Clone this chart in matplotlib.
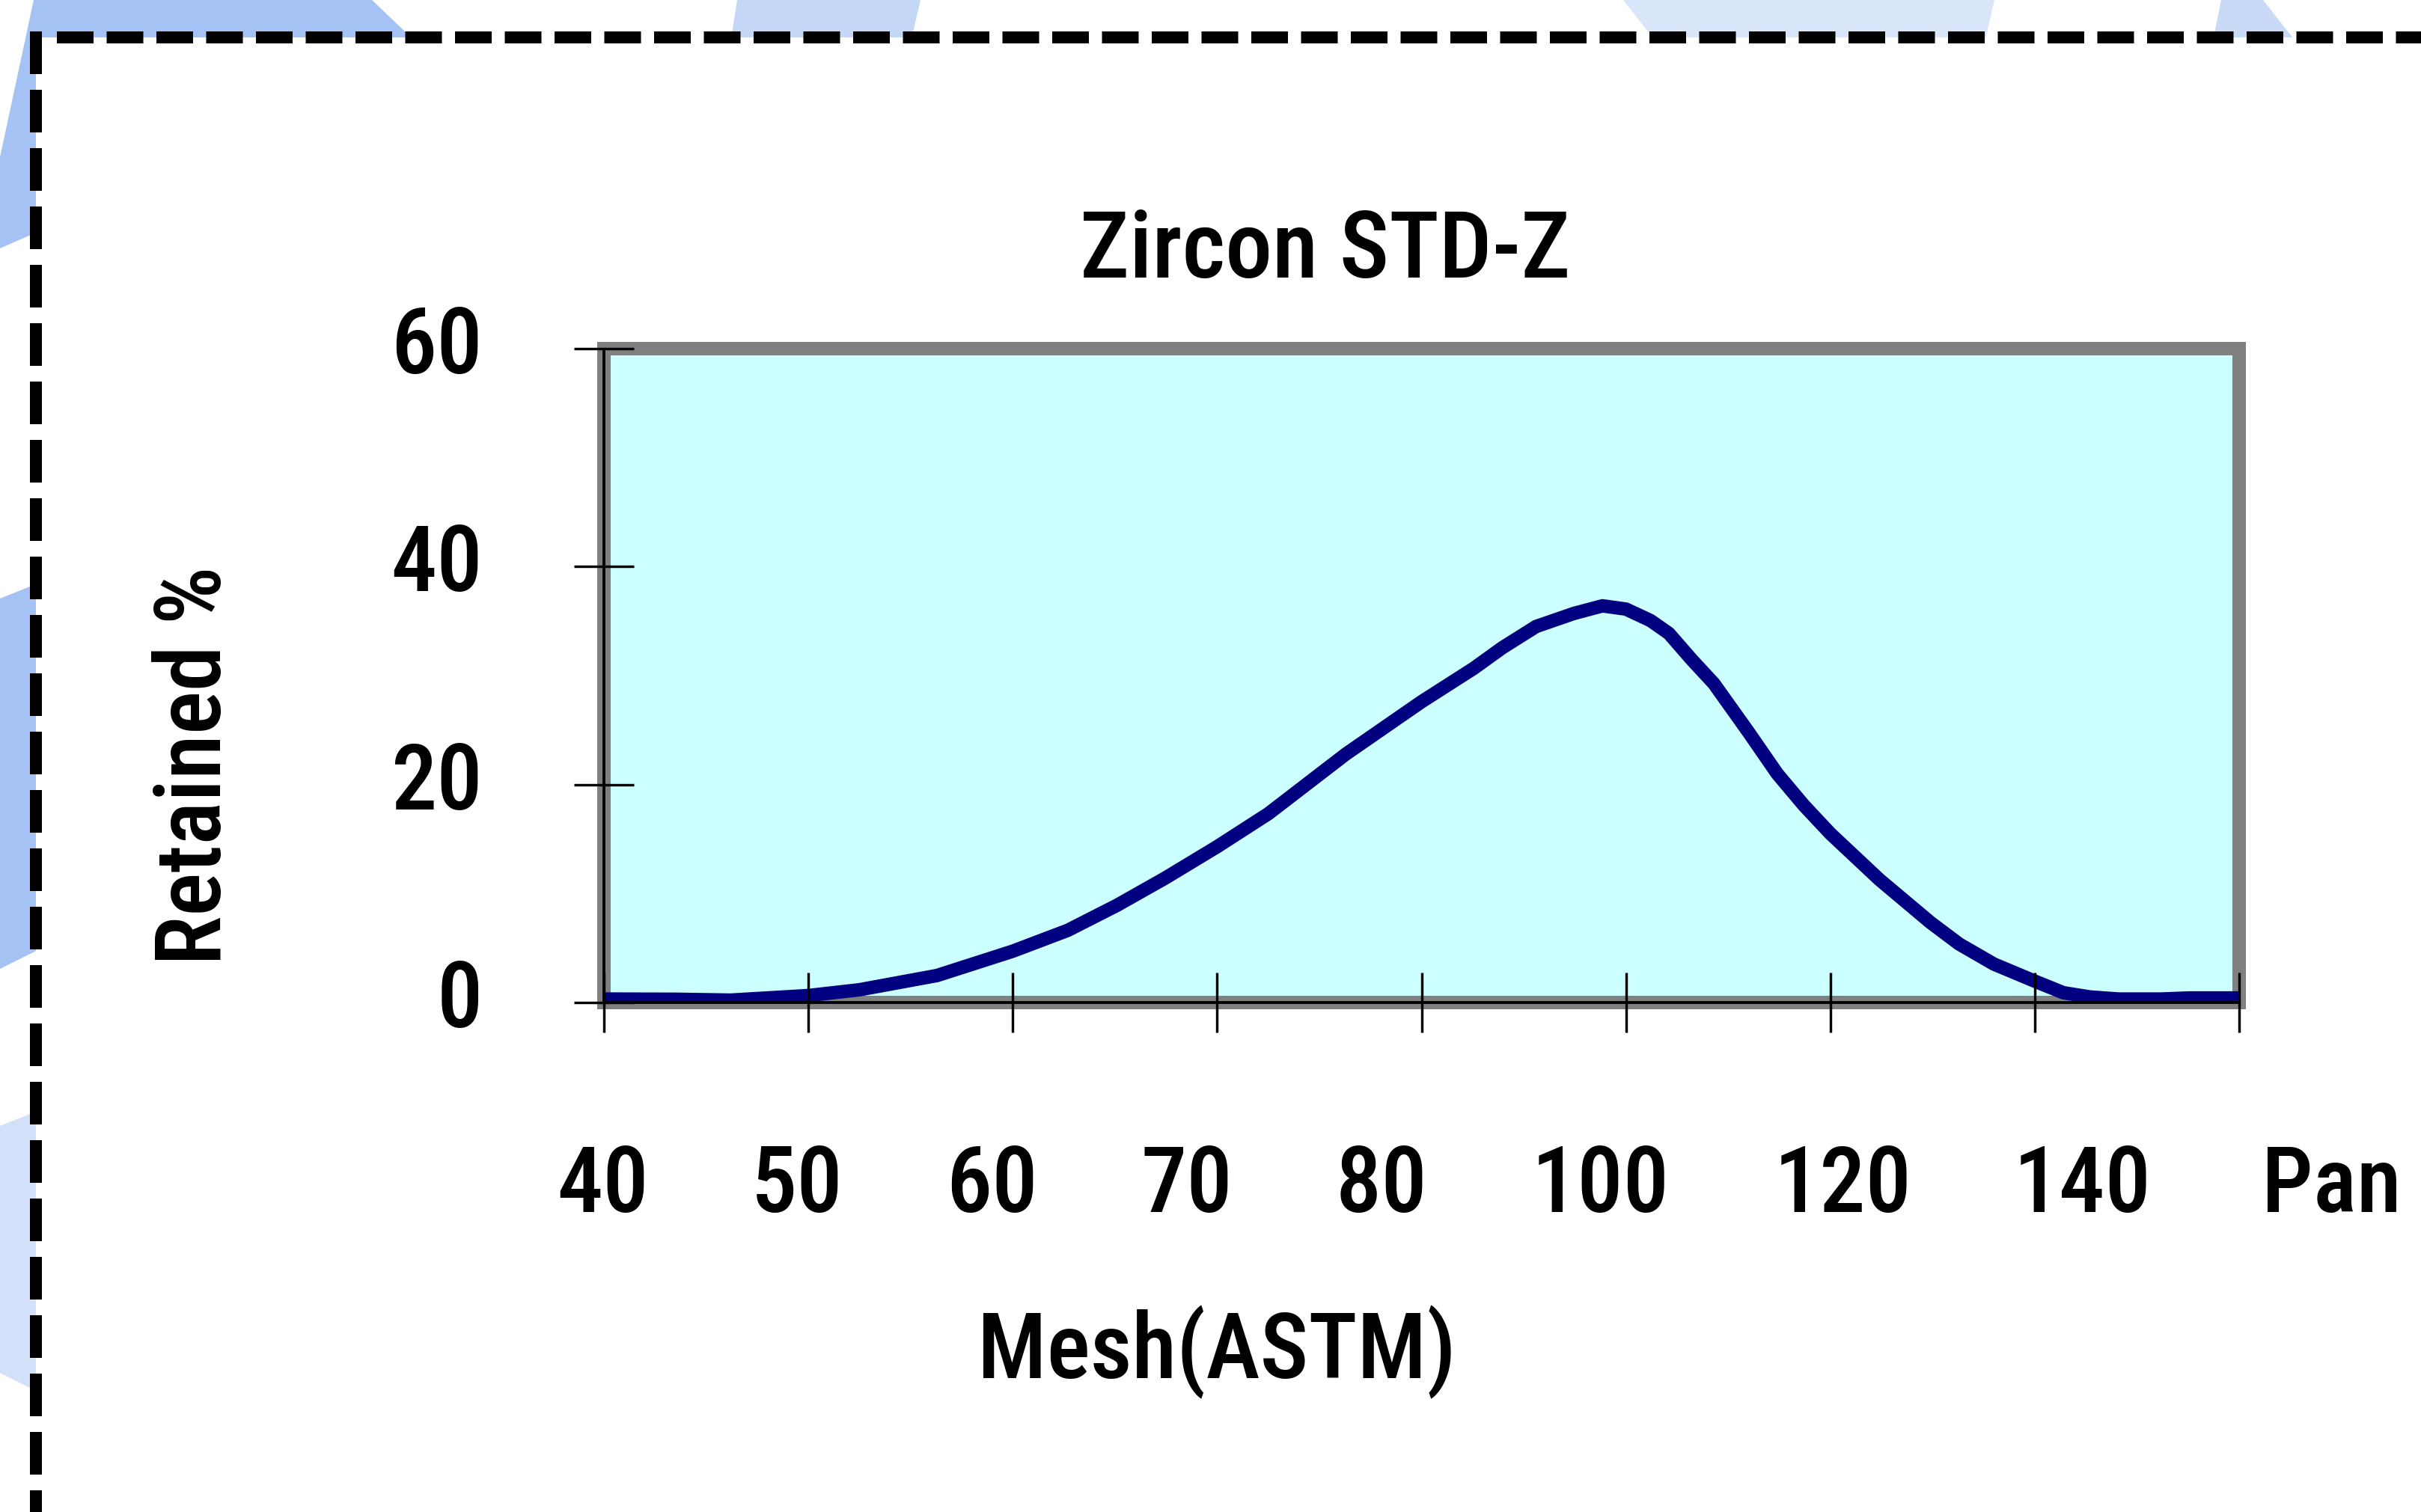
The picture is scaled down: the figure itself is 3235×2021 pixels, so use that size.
import os
import re
import matplotlib
matplotlib.use("Agg")
import matplotlib.pyplot as plt
from matplotlib.patches import Polygon, Rectangle
from matplotlib.lines import Line2D
import matplotlib.transforms as mtransforms
from matplotlib import font_manager
from matplotlib.font_manager import FontProperties

# ---------------- data ----------------
categories = ['40', '50', '60', '70', '80', '100', '120', '140', 'Pan']
# traced curve: position along the category axis (index units) and Retained %
curve_pos = [0.0, 0.35, 0.62, 1.0, 1.25, 1.63, 2.0, 2.27, 2.51, 2.745, 3.0,
             3.25, 3.63, 4.0, 4.255, 4.395, 4.56, 4.745, 4.885, 5.0, 5.12,
             5.21, 5.32, 5.43, 5.6, 5.74, 5.87, 6.0, 6.24, 6.49, 6.63, 6.8,
             7.0, 7.14, 7.27, 7.41, 7.62, 7.76, 8.0]
retained = [0.32, 0.3, 0.22, 0.64, 1.17, 2.48, 4.71, 6.63, 8.92, 11.41, 14.3,
            17.32, 22.8, 27.6, 30.66, 32.55, 34.5, 35.7, 36.4, 36.1, 35.05,
            33.87, 31.5, 29.27, 24.8, 21.0, 18.1, 15.5, 11.28, 7.34, 5.37, 3.53,
            1.96, 0.9, 0.51, 0.32, 0.32, 0.42, 0.42]
y_ticks = [0, 20, 40, 60]
y_ticklabels = ['0', '20', '40', '60']
title = 'Zircon STD-Z'
xlabel = 'Mesh(ASTM)'
ylabel = 'Retained %'

# ---------------- layout ----------------
W, H, DPI = 3235, 2021, 100
PX = 72.0 / DPI  # points per pixel
def fx(px): return px / W
def fy(py): return 1 - py / H

# pick a condensed sans (DIN-like proportions) if one is installed
def pick_font():
    files = [f.fname for f in font_manager.fontManager.ttflist]
    prefs = [r'LiberationSansNarrow-Bold\.', r'RobotoCondensed-Medium\.',
             r'RobotoCondensed-Bold\.', r'NotoSans-CondensedSemiBold\.',
             r'NotoSans-CondensedMedium\.', r'NotoSans-CondensedBold\.',
             r'OpenSans-CondensedSemiBold\.', r'OpenSans_Condensed-SemiBold\.',
             r'OpenSans-CondBold\.', r'DejaVuSansCondensed-Bold\.',
             r'LiberationSansNarrow-Regular\.', r'RobotoCondensed-Regular\.',
             r'DejaVuSansCondensed\.']
    for p in prefs:
        for fn in files:
            if re.search(p, os.path.basename(fn)):
                return FontProperties(fname=fn)
    return FontProperties(family=['Liberation Sans', 'DejaVu Sans'], weight='normal')

FS = 88
def fp(size=FS):
    p = pick_font().copy()
    p.set_size(size)
    return p

fig = plt.figure(figsize=(W / DPI, H / DPI), dpi=DPI)
fig.patch.set_facecolor('white')

# decorative background shapes outside the dashed frame
def poly(pts, color):
    fig.patches.append(Polygon([(fx(x), fy(y)) for x, y in pts], closed=True,
                               transform=fig.transFigure, facecolor=color,
                               edgecolor='none', zorder=-10))
poly([(45, 0), (497, 0), (565, 65), (50, 65), (50, 310), (0, 332), (0, 210)], '#A4C2F4')
poly([(0, 800), (50, 780), (50, 1270), (0, 1295)], '#A4C2F4')
poly([(0, 1505), (50, 1485), (50, 1860), (0, 1835)], '#D3E0F9')
poly([(2169, 0), (2665, 0), (2650, 65), (2220, 65)], '#D9E5F9')
poly([(2968, 0), (3024, 0), (3075, 65), (2955, 65)], '#C9DAF7')
poly([(985, 0), (1230, 0), (1215, 65), (975, 65)], '#C4D7F6')
fig.patches.append(Rectangle((fx(48), fy(H + 50)), 1.2, fy(50) - fy(H + 50),
                             transform=fig.transFigure, facecolor='white',
                             edgecolor='none', zorder=-5))

# dashed frame
lw_frame = 16 * PX
fig.lines.append(Line2D([fx(76), 1.05], [fy(50), fy(50)], transform=fig.transFigure,
                        color='black', lw=lw_frame, dashes=(49 / 16, 17.5 / 16),
                        solid_capstyle='butt', dash_capstyle='butt', zorder=-4))
fig.lines.append(Line2D([fx(48), fx(48)], [fy(42), -0.05], transform=fig.transFigure,
                        color='black', lw=lw_frame, dashes=(57 / 16, 21 / 16),
                        solid_capstyle='butt', dash_capstyle='butt', zorder=-4))

# axes
L, R, T, B = 807, 2992, 466, 1340
ax = fig.add_axes([fx(L), fy(B), fx(R) - fx(L), fy(T) - fy(B)])
ax.set_facecolor('#CCFFFF')
ax.set_xlim(0, len(categories) - 1)
ax.set_ylim(0, 60)
for s in ax.spines.values():
    s.set_color('#808080')
    s.set_linewidth(18 * PX)
    s.set_zorder(2.5)
    s.set_capstyle('projecting')

ax.plot(curve_pos, retained, color='#000080', lw=18 * PX, zorder=3,
        solid_joinstyle='round', solid_capstyle='butt')

# black axis lines over the gray frame
ax.plot([0, 0], [0, 1], transform=ax.transAxes, color='black', lw=3.8 * PX,
        clip_on=False, zorder=4, solid_capstyle='butt')
ax.plot([0, 1], [0, 0], transform=ax.transAxes, color='black', lw=3.8 * PX,
        clip_on=False, zorder=4, solid_capstyle='butt')

ax.set_yticks(y_ticks)
ax.set_yticklabels(y_ticklabels, fontproperties=fp())
ax.set_xticks(range(len(categories)))
ax.set_xticklabels([])
ax.tick_params(axis='both', direction='inout', length=80 * PX, width=3.4 * PX,
               color='black')
ax.tick_params(axis='y', pad=122 * PX)
ax.xaxis.set_zorder(5)
ax.yaxis.set_zorder(5)
shift_up = mtransforms.ScaledTranslation(0, 13 / DPI, fig.dpi_scale_trans)
for lab in ax.get_yticklabels():
    lab.set_transform(lab.get_transform() + shift_up)

# x category labels (as placed in the original)
label_x = [-0.007, 0.945, 1.897, 2.852, 3.804, 4.877, 6.063, 7.235, 8.451]
btr = mtransforms.blended_transform_factory(ax.transData, fig.transFigure)
for lx, lab in zip(label_x, categories):
    ax.text(lx, fy(1620), lab, transform=btr, ha='center', va='baseline',
            fontproperties=fp(), clip_on=False)

# titles
fig.text(fx(1771), fy(371), title, ha='center', va='baseline', fontproperties=fp(90))
fig.text(fx(1626), fy(1842), xlabel, ha='center', va='baseline', fontproperties=fp())
fig.text(fx(295), fy(1023), ylabel, ha='center', va='baseline', rotation=90,
         rotation_mode='anchor', fontproperties=fp())

fig.savefig('out.png', dpi=DPI, facecolor='white')
